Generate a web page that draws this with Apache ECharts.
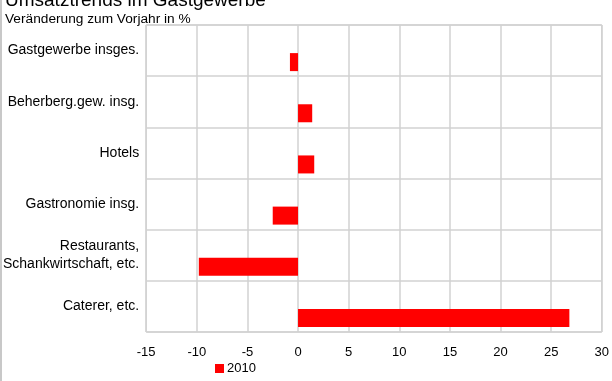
<!DOCTYPE html>
<html>
<head>
<meta charset="utf-8">
<script src="https://cdn.jsdelivr.net/npm/echarts@6/dist/echarts.min.js"></script>
<style>
  html, body { margin: 0; padding: 0; background: #fff; }
  #chart { width: 612px; height: 381px; }
</style>
</head>
<body>
<div id="chart"></div>
<script>
// Branchen, von oben nach unten
const categories = [
  'Gastgewerbe insges.',
  'Beherberg.gew. insg.',
  'Hotels',
  'Gastronomie insg.',
  'Restaurants,\nSchankwirtschaft, etc.',
  'Caterer, etc.'
];
// Veränderung zum Vorjahr in %, 2010
const values2010 = [-0.8, 1.4, 1.6, -2.5, -9.8, 26.8];
const xTicks = { min: -15, max: 30, interval: 5 };

const FONT = 'Liberation Sans, Arial, sans-serif';
const chart = echarts.init(document.getElementById('chart'));

chart.setOption({
  animation: false,
  textStyle: { fontFamily: FONT },
  title: [
    {
      text: 'Umsatztrends im Gastgewerbe',
      left: 0, top: -14,
      textStyle: { fontFamily: FONT, fontSize: 19, fontWeight: 'normal', color: '#000' }
    },
    {
      text: 'Veränderung zum Vorjahr in %',
      left: 0, top: 7,
      textStyle: { fontFamily: FONT, fontSize: 13.7, fontWeight: 'normal', color: '#000' }
    }
  ],
  legend: {
    data: ['2010'],
    bottom: 1,
    left: 210,
    itemWidth: 9, itemHeight: 9, itemGap: 4,
    icon: 'rect',
    textStyle: { fontFamily: FONT, fontSize: 13, color: '#000', padding: [0, 0, 0, -2] }
  },
  grid: { left: 145, right: 10, top: 25, bottom: 49, containLabel: false, show: true, borderColor: '#c4c4c4', borderWidth: 1 },
  xAxis: {
    type: 'value',
    min: xTicks.min, max: xTicks.max, interval: xTicks.interval,
    axisLine: { show: false },
    axisTick: { show: false },
    axisLabel: { color: '#000', fontSize: 13, fontFamily: FONT, margin: 14 },
    splitLine: { lineStyle: { color: '#d2d2d2', width: 1.5 } }
  },
  yAxis: {
    type: 'category',
    inverse: true,
    data: categories,
    axisLine: { show: false },
    axisTick: { show: false },
    axisLabel: { color: '#000', fontSize: 14, fontFamily: FONT, margin: 7, lineHeight: 18 },
    splitLine: { show: true, lineStyle: { color: '#d2d2d2', width: 1.5 } }
  },
  series: [
    {
      name: 'leer',
      type: 'bar',
      data: values2010.map(() => null),
      barWidth: 18,
      barGap: '28%',
      silent: true
    },
    {
      name: '2010',
      type: 'bar',
      data: values2010,
      barWidth: 18,
      barGap: '28%',
      itemStyle: { color: '#ff0000' }
    }
  ],
  graphic: [
    { type: 'rect', shape: { x: 0, y: 0, width: 2, height: 381 }, style: { fill: '#c8c8c8' } }
  ]
});
</script>
</body>
</html>
